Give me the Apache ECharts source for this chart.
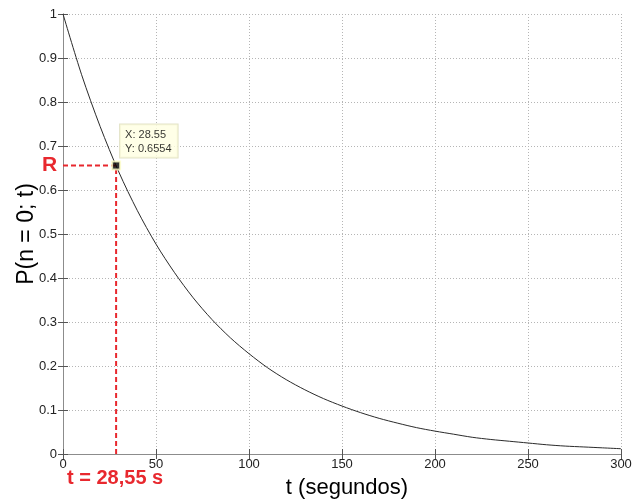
<!DOCTYPE html>
<html>
<head>
<meta charset="utf-8">
<script src="https://cdn.jsdelivr.net/npm/echarts@6/dist/echarts.min.js"></script>
<style>
  html, body { margin: 0; padding: 0; background: #fff; overflow: hidden; }
  #chart { width: 632px; height: 503px; }
</style>
</head>
<body>
<div id="chart"></div>
<script>
// Probability of no arrivals as time goes on
const tSeconds = [0, 10, 20, 30, 40, 50, 60, 70, 80, 90, 100, 110, 120, 130, 140, 150,
  160, 170, 180, 190, 200, 210, 220, 230, 240, 250, 260, 270, 280, 290, 300];
const probNone = [1.0, 0.862, 0.744, 0.641, 0.553, 0.477, 0.412, 0.355, 0.306, 0.264, 0.228,
  0.196, 0.169, 0.146, 0.126, 0.109, 0.094, 0.081, 0.070, 0.060, 0.052, 0.045, 0.038,
  0.033, 0.029, 0.025, 0.021, 0.018, 0.016, 0.014, 0.012];

// Highlighted point: reliability R at t = 28.55 s
const pointT = 28.55;
const pointR = 0.6554;

const xTicks = [0, 50, 100, 150, 200, 250, 300];
const yTicks = [0, 0.1, 0.2, 0.3, 0.4, 0.5, 0.6, 0.7, 0.8, 0.9, 1];

const font = '"Liberation Sans", Arial, sans-serif';
const boxColor = '#8c8c8c';
const red = '#e8282e';

const curve = tSeconds.map((t, i) => [t, probNone[i]]);

const chart = echarts.init(document.getElementById('chart'), null, { renderer: 'canvas' });

const baseAxisLine = { show: true, lineStyle: { color: boxColor, width: 1 } };
const innerTick = { show: true, inside: true, length: 5, lineStyle: { color: '#555', width: 1 } };
const dotted = { show: true, lineStyle: { color: '#b5b5b5', type: [1, 2], width: 1 } };

chart.setOption({
  animation: false,
  backgroundColor: '#ffffff',
  grid: { left: 63, right: 11, top: 14, bottom: 49, containLabel: false, outerBoundsMode: 'none' },
  xAxis: [
    {
      type: 'value', min: 0, max: 300, interval: 50, position: 'bottom',
      name: 't (segundos)', nameLocation: 'middle', nameGap: 23, nameMoveOverlap: false,
      nameTextStyle: { fontFamily: font, fontSize: 22, color: '#000', padding: [0, 0, 0, 10] },
      axisLine: baseAxisLine, axisTick: innerTick,
      axisLabel: { fontFamily: font, fontSize: 13, color: '#222', margin: 4, hideOverlap: false,
        formatter: v => xTicks.includes(v) ? String(v) : '' },
      splitLine: dotted
    },
    {
      type: 'value', min: 0, max: 300, interval: 50, position: 'top',
      axisLine: baseAxisLine, axisTick: innerTick,
      axisLabel: { show: false }, splitLine: { show: false }
    }
  ],
  yAxis: [
    {
      type: 'value', min: 0, max: 1, interval: 0.1, position: 'left',
      name: 'P(n = 0; t)', nameLocation: 'middle', nameGap: 25, nameRotate: 90, nameMoveOverlap: false,
      nameTextStyle: { fontFamily: font, fontSize: 23, color: '#000' },
      axisLine: baseAxisLine, axisTick: innerTick,
      axisLabel: { fontFamily: font, fontSize: 13, color: '#222', margin: 6,
        formatter: v => {
          const r = Math.round(v * 10) / 10;
          return yTicks.includes(r) ? String(r) : '';
        } },
      splitLine: dotted
    },
    {
      type: 'value', min: 0, max: 1, interval: 0.1, position: 'right',
      axisLine: baseAxisLine, axisTick: innerTick,
      axisLabel: { show: false }, splitLine: { show: false }
    }
  ],
  series: [
    {
      name: 'P', type: 'line', data: curve, smooth: 0.3, showSymbol: false,
      lineStyle: { color: '#2a2a2a', width: 1 }, z: 3
    },
    {
      // horizontal guide to the y axis
      type: 'line', data: [[0, pointR], [pointT, pointR]], showSymbol: false,
      lineStyle: { color: red, width: 2, type: [5, 3] }, z: 4
    },
    {
      // vertical guide down to the x axis
      type: 'line', data: [[pointT, 0], [pointT, pointR]], showSymbol: false,
      lineStyle: { color: red, width: 2, type: [5, 3] }, z: 4
    },
    {
      type: 'scatter', data: [[pointT, pointR]], symbol: 'rect', symbolSize: 8,
      itemStyle: { color: '#000', borderColor: '#ffffc8', borderWidth: 2 }, z: 6,
      label: {
        show: true, position: [9, -36],
        formatter: 'X: ' + pointT + '\nY: ' + pointR,
        fontFamily: font, fontSize: 11, color: '#000', lineHeight: 14,
        backgroundColor: '#ffffe1', borderColor: '#dcdcb8', borderWidth: 1,
        padding: [3, 6, 2, 5]
      }
    }
  ],
  graphic: [
    { type: 'text', left: 42, top: 155,
      style: { text: 'R', fontFamily: font, fontSize: 21, fontWeight: 'bold', fill: red } },
    { type: 'text', left: 67, top: 468,
      style: { text: 't = 28,55 s', fontFamily: font, fontSize: 20, fontWeight: 'bold', fill: red } }
  ]
});
</script>
</body>
</html>
